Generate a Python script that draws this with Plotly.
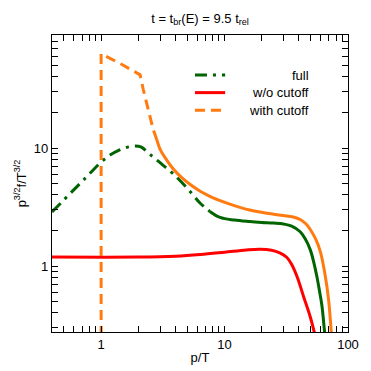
import plotly.graph_objects as go
import numpy as np

# ---- data ----
full_dash_p = [0.4, 0.5, 0.6, 0.7, 0.8, 1.0, 1.2, 1.4, 1.6, 1.89, 2.1, 2.5, 3.1, 3.86, 4.95, 6.35, 7.6]
full_dash_y = [2.87, 3.64, 4.42, 5.2, 6.0, 7.61, 8.8, 9.6, 10.1, 10.39, 10.2, 8.8, 7.3, 6.0, 4.6, 3.4, 2.9]
full_solid_p = [7.6, 9.2, 12, 16, 20, 25, 30, 35, 41, 45, 49.5, 53, 56, 59, 61.5, 64.3, 66]
full_solid_y = [2.9, 2.58, 2.45, 2.38, 2.34, 2.31, 2.27, 2.18, 1.95, 1.7, 1.37, 1.06, 0.81, 0.6, 0.46, 0.29, 0.22]

wo_p = [0.4, 2, 4, 6.35, 10, 15, 19.5, 24, 28, 32, 35, 38.7, 43.7, 49.5, 54.5]
wo_y = [1.19, 1.19, 1.21, 1.25, 1.31, 1.37, 1.39, 1.36, 1.29, 1.18, 1.03, 0.81, 0.55, 0.37, 0.25]

cut_dash_p = [1.0, 1.0, 1.5, 2.07, 2.2, 2.42, 2.65, 2.83]
cut_dash_y = [0.1, 62.9, 50.5, 41.7, 31, 21, 14.2, 11.7]
cut_solid_p = [2.83, 3.0, 3.4, 3.86, 4.5, 5.27, 6.35, 7.6, 9.2, 12, 16, 22, 29.9, 36, 41, 46, 49.5, 55, 60, 65.6, 69.6, 73.5]
cut_solid_y = [11.7, 9.8, 7.9, 6.6, 5.6, 4.9, 4.3, 3.9, 3.58, 3.25, 2.98, 2.8, 2.68, 2.6, 2.48, 2.26, 2.04, 1.67, 1.3, 0.81, 0.52, 0.26]

x_labels = {1: "1", 10: "10", 100: "100"}
y_labels = {1: "1", 10: "10"}

legend_labels = ["full", "w/o cutoff", "with cutoff"]

GREEN = "#006400"
RED = "#ff0000"
ORANGE = "#ff7a0f"
FONT = "Liberation Sans"

# tick positions: every 1..9 times each decade; only decades are labelled
x_tickvals = [m * 10 ** d for d in range(-1, 3) for m in range(1, 10) if 0.4 <= m * 10 ** d <= 100]
y_tickvals = [m * 10 ** d for d in range(-1, 2) for m in range(1, 10) if 0.276 <= m * 10 ** d <= 90.7]
x_ticktext = [x_labels.get(v, "") for v in x_tickvals]
y_ticktext = [y_labels.get(v, "") for v in y_tickvals]

fig = go.Figure()
fig.add_trace(go.Scatter(x=full_dash_p, y=full_dash_y, mode="lines", line_shape="spline",
                         line=dict(color=GREEN, width=3, dash="12px,6px,3px,6px"), showlegend=False))
fig.add_trace(go.Scatter(x=full_solid_p, y=full_solid_y, mode="lines", line_shape="spline",
                         line=dict(color=GREEN, width=3), showlegend=False))
fig.add_trace(go.Scatter(x=wo_p, y=wo_y, mode="lines", line_shape="spline",
                         line=dict(color=RED, width=3), showlegend=False))
fig.add_trace(go.Scatter(x=cut_dash_p, y=cut_dash_y, mode="lines",
                         line=dict(color=ORANGE, width=3, dash="10px,6px"), showlegend=False))
fig.add_trace(go.Scatter(x=cut_solid_p, y=cut_solid_y, mode="lines", line_shape="spline",
                         line=dict(color=ORANGE, width=3), showlegend=False))

# manual legend (right-aligned labels, samples on the left)
leg_styles = [(GREEN, "12px,6px,3px,6px"), (RED, "solid"), (ORANGE, "10px,6px")]
leg_y = [0.865, 0.806, 0.747]
for (col, dsh), lab, yy in zip(leg_styles, legend_labels, leg_y):
    fig.add_shape(type="line", xref="paper", yref="paper", x0=0.483, x1=0.585, y0=yy, y1=yy,
                  line=dict(color=col, width=3, dash=dsh))
    fig.add_annotation(xref="paper", yref="paper", x=0.875, y=yy, text=lab, showarrow=False,
                       xanchor="right", yanchor="middle", font=dict(family=FONT, size=13, color="black"))

axis_common = dict(type="log", showgrid=False, zeroline=False, showline=True, linecolor="black",
                   linewidth=1.3, mirror="allticks", ticks="inside", ticklen=6, tickwidth=1.2,
                   tickcolor="black", tickfont=dict(family=FONT, size=13, color="black"),
                   automargin=False, tickmode="array")

fig.update_xaxes(**axis_common, range=[np.log10(0.4), 2], tickvals=x_tickvals, ticktext=x_ticktext,
                 title=dict(text="p/T", font=dict(family=FONT, size=13, color="black"), standoff=2))
fig.update_yaxes(**axis_common, range=[np.log10(0.276), np.log10(90.7)], tickvals=y_tickvals, ticktext=y_ticktext,
                 title=dict(text="p<sup>3/2</sup>f/T<sup>3/2</sup>", font=dict(family=FONT, size=13, color="black"), standoff=4))

# page body adds an 8px margin, so the figure is 363 px and the plot box sits at 52..348 / 35..332 on screen
fig.update_layout(
    width=363, height=363, autosize=False,
    margin=dict(l=44, r=23, t=27, b=39),
    paper_bgcolor="white", plot_bgcolor="white",
    title=dict(text="t = t<sub>br</sub>(E) = 9.5 t<sub>rel</sub>", x=0.529, xanchor="center", y=0.972,
               yanchor="middle", font=dict(family=FONT, size=13, color="black")),
    showlegend=False,
)

fig.write_html("out.html")
